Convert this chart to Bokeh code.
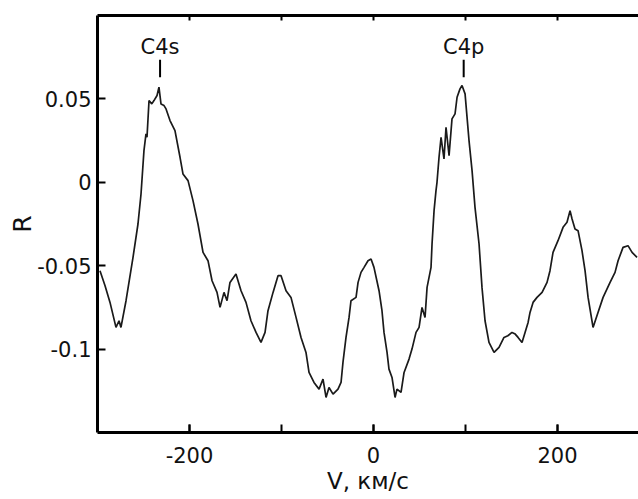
from bokeh.plotting import figure
from bokeh.models import FixedTicker, LinearAxis, Range1d
from bokeh.core.properties import value
from bokeh.embed import file_html
from bokeh.resources import INLINE

# Velocity, km/s
velocity = [
    -297.3, -291.8, -286.4, -279.9, -276.6, -274.5, -269.0, -261.4, -256.0, -252.7,
    -249.5, -247.3, -246.2, -244.0, -241.0, -238.6, -235.3, -233.2, -231.0, -227.7,
    -225.5, -221.2, -215.8, -210.3, -207.1, -201.6, -196.2, -190.8, -185.3, -179.9,
    -175.5, -170.1, -166.8, -162.5, -159.2, -156.0, -149.5, -144.0, -138.6, -133.2,
    -127.7, -122.3, -117.9, -114.7, -109.2, -103.8, -100.5, -95.1, -89.7, -84.2,
    -78.8, -73.4, -70.1, -64.7, -59.2, -54.9, -51.6, -48.4, -44.0, -38.6,
    -35.3, -33.2, -29.9, -26.6, -24.5, -19.0, -16.8, -13.6, -10.3, -6.0,
    -2.7, 0.5, 6.0, 9.2, 11.4, 14.7, 16.8, 20.1, 23.4, 25.5,
    29.9, 33.2, 38.6, 41.8, 46.2, 49.5, 52.7, 56.0, 58.2, 62.5,
    63.6, 65.8, 67.9, 69.0, 71.2, 73.4, 76.6, 78.8, 82.1, 85.3,
    88.6, 90.8, 94.0, 96.2, 99.5, 103.8, 107.1, 110.3, 114.7, 117.9,
    121.2, 125.5, 131.0, 136.4, 141.8, 146.0, 150.5, 154.0, 157.1, 161.4,
    164.7, 168.0, 170.1, 173.4, 177.7, 183.2, 188.6, 191.8, 195.1, 200.5,
    206.0, 210.3, 213.6, 215.8, 219.0, 222.3, 226.6, 229.9, 233.2, 238.6,
    244.0, 249.5, 257.1, 262.5, 265.8, 271.2, 276.6, 281.0, 286.4,
]
# Reflectance R
reflect = [
    -0.053, -0.062, -0.072, -0.087, -0.083, -0.087, -0.071, -0.045, -0.025, -0.007,
    0.019, 0.029, 0.027, 0.049, 0.047, 0.049, 0.052, 0.057, 0.047, 0.046,
    0.044, 0.037, 0.031, 0.015, 0.005, 0.001, -0.011, -0.025, -0.042, -0.047,
    -0.059, -0.066, -0.075, -0.066, -0.071, -0.060, -0.055, -0.065, -0.072, -0.083,
    -0.090, -0.096, -0.090, -0.077, -0.066, -0.056, -0.056, -0.065, -0.069, -0.081,
    -0.093, -0.102, -0.114, -0.120, -0.124, -0.118, -0.129, -0.123, -0.127, -0.124,
    -0.120, -0.108, -0.093, -0.081, -0.071, -0.069, -0.060, -0.054, -0.051, -0.047,
    -0.046, -0.051, -0.065, -0.077, -0.090, -0.102, -0.112, -0.117, -0.129, -0.124,
    -0.126, -0.114, -0.106, -0.100, -0.090, -0.087, -0.075, -0.081, -0.063, -0.051,
    -0.037, -0.017, -0.005, 0.000, 0.015, 0.027, 0.014, 0.033, 0.016, 0.038,
    0.041, 0.051, 0.056, 0.058, 0.053, 0.025, 0.007, -0.015, -0.037, -0.063,
    -0.083, -0.096, -0.102, -0.099, -0.093, -0.092, -0.090, -0.091, -0.093, -0.096,
    -0.090, -0.084, -0.078, -0.072, -0.069, -0.066, -0.060, -0.053, -0.042, -0.035,
    -0.027, -0.024, -0.017, -0.022, -0.028, -0.029, -0.041, -0.053, -0.069, -0.087,
    -0.078, -0.069, -0.060, -0.054, -0.047, -0.039, -0.038, -0.042, -0.045,
]

line_names = ["C4s", "C4p"]
line_velocity = [-232, 98]

x_label_ticks = [-200, 0, 200]
x_tick_labels = ["-200", "0", "200"]
x_all_ticks = [-200, -100, 0, 100, 200]
y_ticks = [-0.1, -0.05, 0, 0.05]
y_tick_labels = ["-0.1", "-0.05", "0", "0.05"]

FONT = "DejaVu Sans"

p = figure(width=638, height=499, output_backend="svg", toolbar_location=None,
           x_range=Range1d(-300, 288), y_range=Range1d(-0.15, 0.1),
           min_border_left=97, min_border_right=0, min_border_top=15,
           min_border_bottom=67, x_axis_label="V, км/с", y_axis_label="R")
p.outline_line_color = None
p.background_fill_color = "white"
p.border_fill_color = "white"
p.xgrid.visible = False
p.ygrid.visible = False

p.xaxis.ticker = FixedTicker(ticks=x_label_ticks, minor_ticks=x_all_ticks)
p.xaxis.major_label_overrides = dict(zip(x_label_ticks, x_tick_labels))
p.yaxis.ticker = FixedTicker(ticks=y_ticks, minor_ticks=[])
p.yaxis.major_label_overrides = dict(zip(y_ticks, y_tick_labels))

for ax in (p.xaxis[0], p.yaxis[0]):
    ax.axis_line_width = 3
    ax.axis_line_color = "black"
    ax.major_tick_in = 8
    ax.major_tick_out = 0
    ax.major_tick_line_width = 2
    ax.minor_tick_in = 8
    ax.minor_tick_out = 0
    ax.minor_tick_line_width = 2
    ax.minor_tick_line_color = "black"
    ax.major_label_text_font = FONT
    ax.major_label_text_font_size = "21px"
    ax.major_label_text_color = "#111111"
    ax.axis_label_text_font = FONT
    ax.axis_label_text_font_style = "normal"
    ax.axis_label_text_color = "#111111"

p.xaxis.axis_label_text_font_size = "23px"
p.yaxis.axis_label_text_font_size = "25px"
p.xaxis.major_label_standoff = 14
p.xaxis.axis_label_standoff = 2
p.yaxis.major_label_standoff = 6
p.yaxis.axis_label_standoff = -3

top = LinearAxis(ticker=FixedTicker(ticks=[], minor_ticks=x_all_ticks),
                 axis_line_width=3, axis_line_color="black",
                 minor_tick_in=5, minor_tick_out=0, minor_tick_line_width=2,
                 minor_tick_line_color="black", major_tick_line_color=None)
p.add_layout(top, "above")

p.line(velocity, reflect, line_color="#1a1a1a", line_width=1.7)

p.text(x=line_velocity, y=[0.081, 0.081], text=line_names, text_align="center",
       text_baseline="middle", text_font=value(FONT), text_font_size="21px",
       text_color="#111111")
p.segment(x0=line_velocity, y0=[0.0735, 0.0735], x1=line_velocity,
          y1=[0.063, 0.063], line_color="black", line_width=2)

open("out.html", "w").write(file_html(p, INLINE))
